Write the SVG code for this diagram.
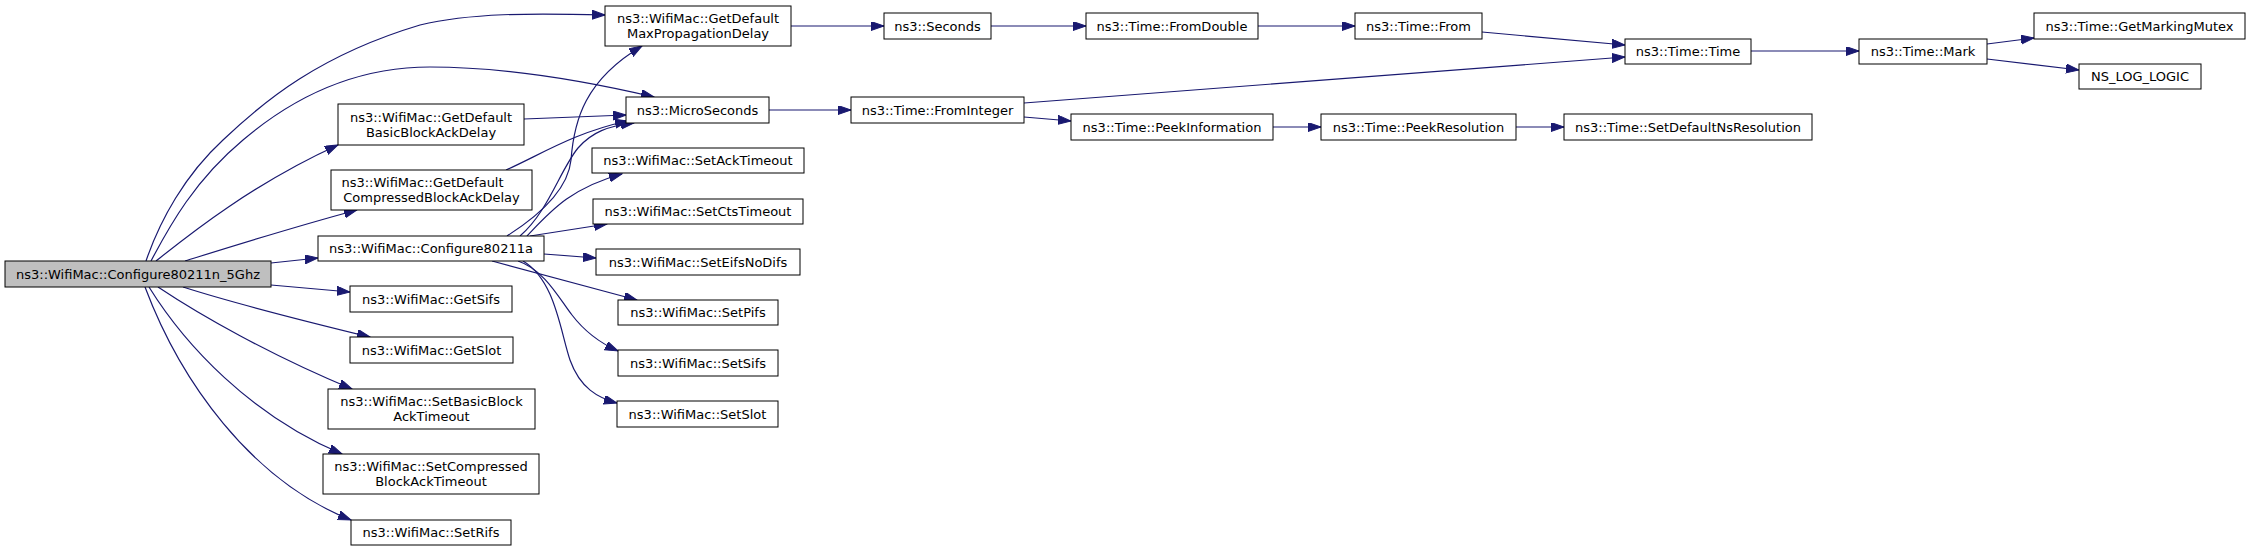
<svg xmlns="http://www.w3.org/2000/svg" width="2251" height="551" viewBox="0 0 2251 551">
<style>
.n rect{fill:#ffffff;stroke:#000000;stroke-width:1}
.root rect{fill:#bfbfbf}
.n text{font-family:"DejaVu Sans",sans-serif;font-size:13px;fill:#000000;text-anchor:middle}
.e path{fill:none;stroke:#191970;stroke-width:1.2;marker-end:url(#arr)}
</style>
<defs>
<marker id="arr" markerWidth="14" markerHeight="10" refX="13" refY="4.5" orient="auto" markerUnits="userSpaceOnUse">
<path d="M0,0 L13,4.5 L0,9 z" fill="#191970" stroke="#191970" stroke-width="1"/>
</marker>
</defs>
<rect width="2251" height="551" fill="#ffffff"/>
<g id="edges" class="e">
<path d="M146,261 C160,220 185,175 223,140 C265,100 320,55 420,25 C470,13 530,13 605,15"/>
<path d="M151,261 C170,225 195,180 243,140 C290,100 350,67 430,67 C510,67 590,82 654,97"/>
<path d="M156,261 C185,238 250,185 338,145"/>
<path d="M185,261 C230,247 290,228 357,210"/>
<path d="M271,263 L318,258"/>
<path d="M271,285 L350,292"/>
<path d="M183,287 C230,302 300,320 370,337"/>
<path d="M158,287 C200,315 270,355 352,389"/>
<path d="M149,287 C185,345 250,415 342,454"/>
<path d="M145,287 C180,380 250,480 351,520"/>
<path d="M524,119 L626,115"/>
<path d="M506,170 C540,155 575,132 628,121"/>
<path d="M507,236 C540,215 568,190 571,160 C574,120 585,80 642,46"/>
<path d="M520,236 C548,212 560,170 578,148 C592,132 608,126 634,123"/>
<path d="M527,236 C550,212 570,188 622,174"/>
<path d="M530,236 L607,224"/>
<path d="M544,254 L596,258"/>
<path d="M492,261 L637,300"/>
<path d="M518,261 C545,270 560,300 572,315 C585,332 600,343 618,351"/>
<path d="M523,261 C555,280 560,330 570,360 C580,388 598,398 617,403"/>
<path d="M791,26 L884,26"/>
<path d="M991,26 L1086,26"/>
<path d="M1258,26 L1355,26"/>
<path d="M1482,32 L1625,45"/>
<path d="M1024,103 L1625,57"/>
<path d="M1751,51 L1859,51"/>
<path d="M1987,44 L2034,38"/>
<path d="M1987,59 L2079,70"/>
<path d="M769,110 L851,110"/>
<path d="M1024,117 L1071,121"/>
<path d="M1273,127 L1321,127"/>
<path d="M1516,127 L1564,127"/>
</g>
<g id="n0" class="n root"><rect x="5" y="261" width="266" height="26"/><text x="138" y="278.5">ns3::WifiMac::Configure80211n_5Ghz</text></g>
<g id="n1" class="n"><rect x="605" y="6" width="186" height="40"/><text x="698" y="23">ns3::WifiMac::GetDefault</text><text x="698" y="38">MaxPropagationDelay</text></g>
<g id="n2" class="n"><rect x="884" y="13" width="107" height="26"/><text x="937.5" y="30.5">ns3::Seconds</text></g>
<g id="n3" class="n"><rect x="1086" y="13" width="172" height="26"/><text x="1172" y="30.5">ns3::Time::FromDouble</text></g>
<g id="n4" class="n"><rect x="1355" y="13" width="127" height="26"/><text x="1418.5" y="30.5">ns3::Time::From</text></g>
<g id="n5" class="n"><rect x="1625" y="39" width="126" height="25"/><text x="1688" y="56">ns3::Time::Time</text></g>
<g id="n6" class="n"><rect x="1859" y="39" width="128" height="25"/><text x="1923" y="56">ns3::Time::Mark</text></g>
<g id="n7" class="n"><rect x="2034" y="13" width="211" height="26"/><text x="2139.5" y="30.5">ns3::Time::GetMarkingMutex</text></g>
<g id="n8" class="n"><rect x="2079" y="64" width="122" height="25"/><text x="2140" y="81">NS_LOG_LOGIC</text></g>
<g id="n9" class="n"><rect x="626" y="97" width="143" height="26"/><text x="697.5" y="114.5">ns3::MicroSeconds</text></g>
<g id="n10" class="n"><rect x="851" y="97" width="173" height="26"/><text x="937.5" y="114.5">ns3::Time::FromInteger</text></g>
<g id="n11" class="n"><rect x="1071" y="114" width="202" height="26"/><text x="1172" y="131.5">ns3::Time::PeekInformation</text></g>
<g id="n12" class="n"><rect x="1321" y="114" width="195" height="26"/><text x="1418.5" y="131.5">ns3::Time::PeekResolution</text></g>
<g id="n13" class="n"><rect x="1564" y="114" width="248" height="26"/><text x="1688" y="131.5">ns3::Time::SetDefaultNsResolution</text></g>
<g id="n14" class="n"><rect x="338" y="104" width="186" height="41"/><text x="431" y="122">ns3::WifiMac::GetDefault</text><text x="431" y="137">BasicBlockAckDelay</text></g>
<g id="n15" class="n"><rect x="331" y="170" width="201" height="40"/><text x="422.5" y="187">ns3::WifiMac::GetDefault</text><text x="431.5" y="202">CompressedBlockAckDelay</text></g>
<g id="n16" class="n"><rect x="318" y="236" width="226" height="25"/><text x="431" y="253">ns3::WifiMac::Configure80211a</text></g>
<g id="n17" class="n"><rect x="592" y="148" width="212" height="25"/><text x="698" y="165">ns3::WifiMac::SetAckTimeout</text></g>
<g id="n18" class="n"><rect x="593" y="199" width="210" height="25"/><text x="698" y="216">ns3::WifiMac::SetCtsTimeout</text></g>
<g id="n19" class="n"><rect x="596" y="249" width="204" height="26"/><text x="698" y="266.5">ns3::WifiMac::SetEifsNoDifs</text></g>
<g id="n20" class="n"><rect x="618" y="300" width="160" height="25"/><text x="698" y="317">ns3::WifiMac::SetPifs</text></g>
<g id="n21" class="n"><rect x="618" y="350" width="160" height="26"/><text x="698" y="367.5">ns3::WifiMac::SetSifs</text></g>
<g id="n22" class="n"><rect x="617" y="401" width="161" height="26"/><text x="697.5" y="418.5">ns3::WifiMac::SetSlot</text></g>
<g id="n23" class="n"><rect x="350" y="286" width="162" height="26"/><text x="431" y="303.5">ns3::WifiMac::GetSifs</text></g>
<g id="n24" class="n"><rect x="350" y="337" width="163" height="26"/><text x="431.5" y="354.5">ns3::WifiMac::GetSlot</text></g>
<g id="n25" class="n"><rect x="328" y="389" width="207" height="40"/><text x="431.5" y="406">ns3::WifiMac::SetBasicBlock</text><text x="431.5" y="421">AckTimeout</text></g>
<g id="n26" class="n"><rect x="323" y="454" width="216" height="40"/><text x="431" y="471">ns3::WifiMac::SetCompressed</text><text x="431" y="486">BlockAckTimeout</text></g>
<g id="n27" class="n"><rect x="351" y="520" width="160" height="25"/><text x="431" y="537">ns3::WifiMac::SetRifs</text></g>
</svg>
